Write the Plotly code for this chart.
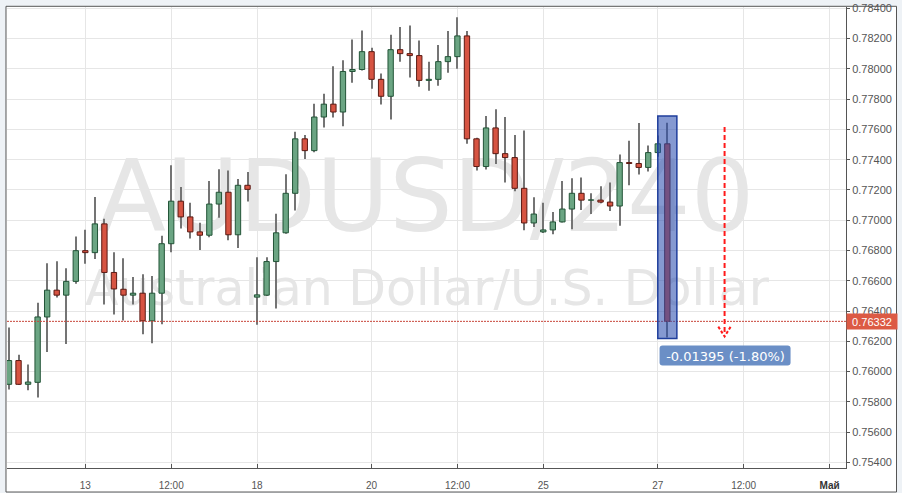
import plotly.graph_objects as go

# ---- data (AUDUSD, 240-min candles) ----
opens = [0.75916, 0.76073, 0.75916, 0.75929, 0.76361, 0.76538, 0.76505, 0.76596, 0.76799, 0.76786,
         0.76976, 0.76655, 0.76544, 0.76505, 0.76518, 0.76335, 0.76518, 0.76845, 0.77126, 0.77022,
         0.76923, 0.76901, 0.77107, 0.77185, 0.76904, 0.77231, 0.76492, 0.76505, 0.76727, 0.76917,
         0.77178, 0.77538, 0.77460, 0.77682, 0.77767, 0.77715, 0.77983, 0.77996, 0.78114, 0.77931,
         0.77819, 0.78127, 0.78101, 0.78088, 0.77924, 0.77931, 0.78048, 0.78081, 0.78218, 0.77538,
         0.77355, 0.77610, 0.77440, 0.77414, 0.77211, 0.76982, 0.76923, 0.76936, 0.76989, 0.77074,
         0.77178, 0.77133, 0.77133, 0.77120, 0.77094, 0.77381, 0.77375, 0.77349, 0.77447, 0.77505]
highs = [0.76291, 0.76112, 0.76047, 0.76455, 0.76716, 0.76729, 0.76683, 0.76893, 0.76937, 0.77154,
         0.77010, 0.76788, 0.76749, 0.76625, 0.76644, 0.76631, 0.76897, 0.77363, 0.77220, 0.77115,
         0.76984, 0.77259, 0.77337, 0.77329, 0.77272, 0.77318, 0.76755, 0.76755, 0.77043, 0.77304,
         0.77584, 0.77564, 0.77769, 0.77835, 0.78017, 0.78057, 0.78194, 0.78253, 0.78140, 0.77970,
         0.78225, 0.78277, 0.78286, 0.78188, 0.78048, 0.78158, 0.78251, 0.78342, 0.78251, 0.77545,
         0.77689, 0.77734, 0.77682, 0.77564, 0.77593, 0.77152, 0.77115, 0.77054, 0.77259, 0.77277,
         0.77283, 0.77178, 0.77224, 0.77250, 0.77434, 0.77525, 0.77643, 0.77494, 0.77560, 0.77644]
lows = [0.75881, 0.75912, 0.75877, 0.75829, 0.76129, 0.76489, 0.76182, 0.76581, 0.76712, 0.76744,
        0.76443, 0.76378, 0.76337, 0.76443, 0.76247, 0.76188, 0.76313, 0.76788, 0.76945, 0.76880,
        0.76803, 0.76888, 0.77017, 0.76868, 0.76816, 0.77124, 0.76309, 0.76500, 0.76417, 0.76910,
        0.77065, 0.77405, 0.77450, 0.77612, 0.77679, 0.77621, 0.77908, 0.77990, 0.77869, 0.77764,
        0.77666, 0.78048, 0.77944, 0.77882, 0.77856, 0.77888, 0.77974, 0.78001, 0.77505, 0.77329,
        0.77335, 0.77372, 0.77250, 0.77192, 0.76934, 0.76956, 0.76916, 0.76908, 0.76985, 0.76940,
        0.77067, 0.77041, 0.77113, 0.77061, 0.76963, 0.77231, 0.77303, 0.77322, 0.77420, 0.76226]
closes = [0.76073, 0.75916, 0.75931, 0.76361, 0.76538, 0.76505, 0.76596, 0.76799, 0.76786, 0.76976,
          0.76655, 0.76546, 0.76505, 0.76518, 0.76335, 0.76518, 0.76845, 0.77126, 0.77022, 0.76923,
          0.76901, 0.77107, 0.77185, 0.76904, 0.77231, 0.77204, 0.76507, 0.76727, 0.76917, 0.77178,
          0.77538, 0.77460, 0.77682, 0.77767, 0.77715, 0.77983, 0.77996, 0.78114, 0.77931, 0.77819,
          0.78127, 0.78101, 0.78088, 0.77924, 0.77931, 0.78048, 0.78081, 0.78218, 0.77538, 0.77355,
          0.77610, 0.77440, 0.77414, 0.77211, 0.76982, 0.77041, 0.76936, 0.76989, 0.77074, 0.77178,
          0.77133, 0.77134, 0.77120, 0.77094, 0.77381, 0.77375, 0.77349, 0.77447, 0.77505, 0.76332]

tick_pos = [8, 17, 26, 38, 47, 56, 68, 77, 86]
tick_text = ["13", "12:00", "18", "20", "12:00", "25", "27", "12:00",
             "<b><span style='color:#333'>Май</span></b>"]

watermark_main = "AUDUSD/240"
watermark_sub = "Australian Dollar/U.S. Dollar"
change_text = "-0.01395 (-1.80%)"
highlight_range = [0.76219, 0.77688]
forecast_range = [0.77616, 0.76232]

X_RANGE = [-0.2096, 87.726]
Y_RANGE = [0.75363, 0.78409]

# ---- figure ----
idx = list(range(len(opens)))

base = [min(o, c) for o, c in zip(opens, closes)]
height = [max(abs(c - o), 0.000012) for o, c in zip(opens, closes)]
up = [c >= o for o, c in zip(opens, closes)]
fill = ["#6ba583" if u else "#d75442" for u in up]
edge = ["#225437" if u else "#5b1a13" for u in up]
wick_len = [h - l for h, l in zip(highs, lows)]

fig = go.Figure()

# watermark on the main subplot (drawn beneath the overlaid candle subplot)
fig.add_trace(go.Scatter(x=[43.7], y=[0.77095], mode="text", text=[watermark_main],
                         textfont=dict(family="DejaVu Sans", size=100, color="#e6e6e6"),
                         textposition="middle center", hoverinfo="skip", showlegend=False))
fig.add_trace(go.Scatter(x=[43.8], y=[0.76520], mode="text", text=[watermark_sub],
                         textfont=dict(family="DejaVu Sans", size=49, color="#e6e6e6"),
                         textposition="middle center", hoverinfo="skip", showlegend=False))

# wicks and bodies on overlaid axes
fig.add_trace(go.Bar(x=idx, y=wick_len, base=lows, width=0.105,
                     marker=dict(color="#747474", line=dict(width=0)),
                     xaxis="x2", yaxis="y2", hoverinfo="skip", showlegend=False))
fig.add_trace(go.Bar(x=idx, y=height, base=base, width=0.56,
                     marker=dict(color=fill, line=dict(color=edge, width=1)),
                     xaxis="x2", yaxis="y2", hoverinfo="skip", showlegend=False))

last = len(closes) - 1
fig.add_shape(type="line", xref="paper", x0=0, x1=1, yref="y",
              y0=closes[-1], y1=closes[-1],
              line=dict(color="#c8463a", width=1, dash="2px,1px"), layer="above")
fig.add_shape(type="rect", xref="x", yref="y", x0=last - 1, x1=last + 1,
              y0=highlight_range[0], y1=highlight_range[1],
              fillcolor="rgba(45,80,175,0.58)",
              line=dict(color="#1f3e9c", width=1.5), layer="above")
# forecast arrow
fig.add_shape(type="line", xref="x", yref="y", x0=75.0, x1=75.0,
              y0=forecast_range[0], y1=forecast_range[1] + 0.00012,
              line=dict(color="#ff1a1a", width=2, dash="5px,3px"), layer="above")
fig.add_shape(type="path", xref="x", yref="y",
              path="M 74.34,0.76297 L 75.0,0.76232 L 75.64,0.76297",
              line=dict(color="#ff1a1a", width=2, dash="3px,2px"), layer="above")

# rounded label box for the change annotation
fig.add_shape(type="path", xref="x", yref="y", xsizemode="pixel", ysizemode="pixel",
              xanchor=75.05, yanchor=0.76106,
              path=("M -62.5,-10 L 62.5,-10 Q 65.5,-10 65.5,-7 L 65.5,7 Q 65.5,10 62.5,10 "
                    "L -62.5,10 Q -65.5,10 -65.5,7 L -65.5,-7 Q -65.5,-10 -62.5,-10 Z"),
              fillcolor="#6b8fc6", line=dict(width=0), layer="above")

# frame around plot + axis labels
fig.add_shape(type="rect", xref="paper", yref="paper",
              x0=-0.0012, x1=1.0602, y0=-0.0521, y1=1.0015,
              fillcolor="white", line=dict(color="#555555", width=1), layer="below")

fig.add_annotation(x=1, xref="paper", xanchor="left", y=closes[-1], yref="y",
                   text="%.5f" % closes[-1], showarrow=False,
                   bgcolor="#dc5a44", width=50, height=15, borderpad=0,
                   font=dict(family="Liberation Sans, Arial", size=11, color="white"))
fig.add_annotation(x=75.05, xref="x", y=0.76106, yref="y", text=change_text,
                   showarrow=False, width=131, height=20, borderpad=0,
                   font=dict(family="DejaVu Sans", size=13, color="white"))

fig.update_layout(
    width=902, height=493,
    margin=dict(l=7, r=56, t=2, b=25),
    paper_bgcolor="#eef2f6", plot_bgcolor="white",
    barmode="overlay", showlegend=False, hovermode=False,
    xaxis=dict(range=X_RANGE, tickmode="array", tickvals=tick_pos,
               ticktext=tick_text, showgrid=True, gridcolor="#e6e6e6", gridwidth=1,
               showline=True, linecolor="#555555", linewidth=1,
               ticks="inside", ticklen=4, tickcolor="#555555",
               tickfont=dict(family="Liberation Sans, Arial", size=10, color="#555555"),
               ticklabelstandoff=8, zeroline=False, fixedrange=True),
    yaxis=dict(range=Y_RANGE, side="right", tick0=0.754, dtick=0.002,
               tickformat=".5f", showgrid=True, gridcolor="#e6e6e6", gridwidth=1,
               showline=True, linecolor="#555555", linewidth=1,
               ticks="outside", ticklen=3, tickcolor="#555555",
               ticklabeloverflow="allow",
               tickfont=dict(family="Liberation Sans, Arial", size=11, color="#555555"),
               zeroline=False, fixedrange=True),
    xaxis2=dict(range=X_RANGE, overlaying="x", visible=False, fixedrange=True),
    yaxis2=dict(range=Y_RANGE, overlaying="y", visible=False, fixedrange=True),
)

fig.write_html("out.html", config={"displayModeBar": False},
               post_script="document.body.style.margin='0';")
